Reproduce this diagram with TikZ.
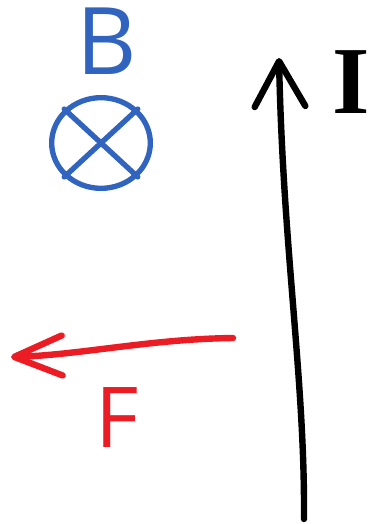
\documentclass[tikz,border=0pt]{standalone}
\usepackage{fontspec}
\setmainfont{Open Sans}
\newfontfamily\currentfont{Liberation Serif}
\usepackage{xcolor}
\definecolor{fieldblue}{HTML}{3064BE}
\definecolor{forcered}{HTML}{EC1C24}
\usepackage{tikz}
\usetikzlibrary{
  arrows.meta,
  shapes.geometric
}

\begin{document}
\begin{tikzpicture}[
  x=0.75pt, y=-0.75pt,
  letter/.style={inner sep=0pt, font=\fontsize{70}{70}\selectfont},
  wire/.style={draw=black, line width=4.8pt, line cap=round, line join=round, -{Straight Barb[length=34pt, width=38pt, round]}},
  push/.style={draw=forcered, line width=4.8pt, line cap=round, line join=round, -{Straight Barb[length=36pt, width=30pt, round]}},
  into/.style={ellipse, draw=fieldblue, line width=4pt, minimum width=74pt, minimum height=68pt, inner sep=0pt},
  cross/.style={draw=fieldblue, line width=4pt, line cap=round},
]
\useasboundingbox (0,0) rectangle (383,524);

% Magnetfeld (links oben)
\node[letter, text=fieldblue] (blabel) at (107,41) {B};
\node[into] (bfield) at (101,143) {};
\draw[cross] (bfield.north west) -- (bfield.south east);
\draw[cross] (bfield.north east) -- (bfield.south west);

% Strom (rechts)
\coordinate (ibot) at (304,519);
\coordinate (itop) at (279,58);
\draw[wire] (ibot) .. controls (305,380) and (283,250) .. (itop);
\node[letter, text=black, font=\fontsize{72}{72}\selectfont\currentfont\bfseries] (ilabel) at (351,82) {I};

% Kraft (links unten)
\coordinate (fstart) at (233,338);
\coordinate (fend) at (11,357);
\draw[push] (fstart) .. controls (150,339) and (80,355) .. (fend);
\node[letter, text=forcered, font=\fontsize{63}{63}\selectfont] (flabel) at (117,418) {F};

\end{tikzpicture}
\end{document}
